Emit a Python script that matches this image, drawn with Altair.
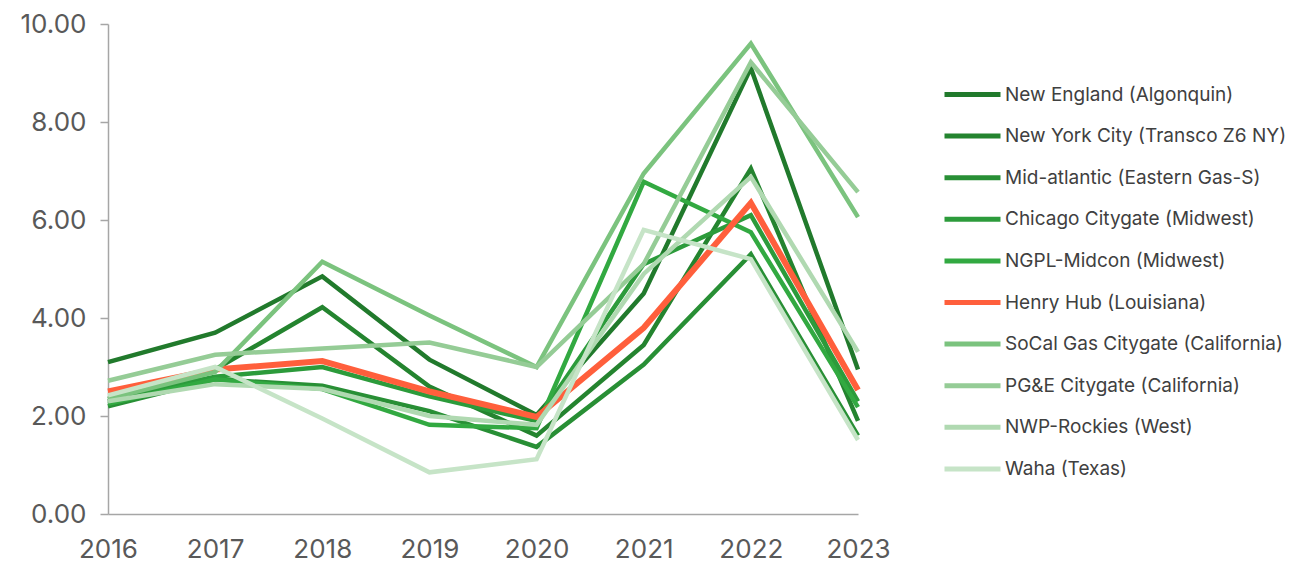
import altair as alt
import pandas as pd

years = [2016, 2017, 2018, 2019, 2020, 2021, 2022, 2023]

series_names = [
    "New England (Algonquin)",
    "New York City (Transco Z6 NY)",
    "Mid-atlantic (Eastern Gas-S)",
    "Chicago Citygate (Midwest)",
    "NGPL-Midcon (Midwest)",
    "Henry Hub (Louisiana)",
    "SoCal Gas Citygate (California)",
    "PG&E Citygate (California)",
    "NWP-Rockies (West)",
    "Waha (Texas)",
]

new_england = [3.10, 3.70, 4.85, 3.15, 2.02, 4.50, 9.10, 2.95]
new_york = [2.30, 2.95, 4.22, 2.60, 1.60, 3.45, 7.05, 1.90]
mid_atlantic = [2.20, 2.75, 2.62, 2.10, 1.37, 3.05, 5.30, 1.60]
chicago = [2.35, 2.80, 3.00, 2.40, 1.90, 5.10, 6.10, 2.30]
ngpl = [2.25, 2.75, 2.55, 1.82, 1.75, 6.78, 5.75, 2.18]
henry_hub = [2.50, 2.95, 3.12, 2.50, 1.98, 3.80, 6.35, 2.53]
socal = [2.35, 2.90, 5.15, 4.05, 3.00, 6.95, 9.60, 6.06]
pge = [2.72, 3.25, 3.38, 3.50, 3.00, 5.10, 9.22, 6.57]
nwp = [2.30, 2.65, 2.55, 2.00, 1.82, 4.90, 6.88, 3.31]
waha = [2.42, 3.00, 1.95, 0.85, 1.12, 5.80, 5.20, 1.51]

all_values = [new_england, new_york, mid_atlantic, chicago, ngpl,
              henry_hub, socal, pge, nwp, waha]

colors = ["#217a2c", "#24842f", "#288f35", "#2c9b3b", "#32a941",
          "#ff5f3c", "#7bc37e", "#95cc96", "#b0d9b1", "#c6e4c7"]

rows = []
for name, vals in zip(series_names, all_values):
    for yr, v in zip(years, vals):
        rows.append({"series": name, "year": yr, "price": v})
df = pd.DataFrame(rows)

font = "Inter"

chart = alt.Chart(df).mark_line().encode(
    x=alt.X("year:O", title=None,
            scale=alt.Scale(padding=0),
            axis=alt.Axis(labelAngle=0, ticks=False, tickSize=0, labelPadding=22,
                          labelFontSize=26, labelColor="#595959", labelFont=font,
                          domainColor="#a6a6a6", domainWidth=1.5, grid=False)),
    y=alt.Y("price:Q", title=None,
            scale=alt.Scale(domain=[0, 10], nice=False),
            axis=alt.Axis(values=[0, 2, 4, 6, 8, 10], format=".2f",
                          labelFontSize=26, labelColor="#595959", labelFont=font,
                          tickSize=8, tickColor="#a6a6a6", labelPadding=14,
                          domainColor="#a6a6a6", domainWidth=1.5, tickWidth=1.5,
                          grid=False)),
    color=alt.Color("series:N",
                    scale=alt.Scale(domain=series_names, range=colors),
                    legend=alt.Legend(title=None, orient="none",
                                      legendX=834, legendY=40,
                                      symbolType="stroke", symbolSize=3136,
                                      symbolStrokeWidth=5,
                                      labelFontSize=19, labelFont=font,
                                      labelColor="#404040", labelOffset=2,
                                      rowPadding=0.6, labelLimit=400)),
    strokeWidth=alt.condition(alt.datum.series == "Henry Hub (Louisiana)",
                              alt.value(6), alt.value(4.5)),
).properties(
    width=750, height=490,
    background="white",
    autosize=alt.AutoSizeParams(type="none"),
    padding={"left": 108, "top": 24, "right": 443, "bottom": 49},
).configure_view(stroke=None, strokeWidth=0)

chart.save("out.html", embed_options={"renderer": "svg", "actions": False})
